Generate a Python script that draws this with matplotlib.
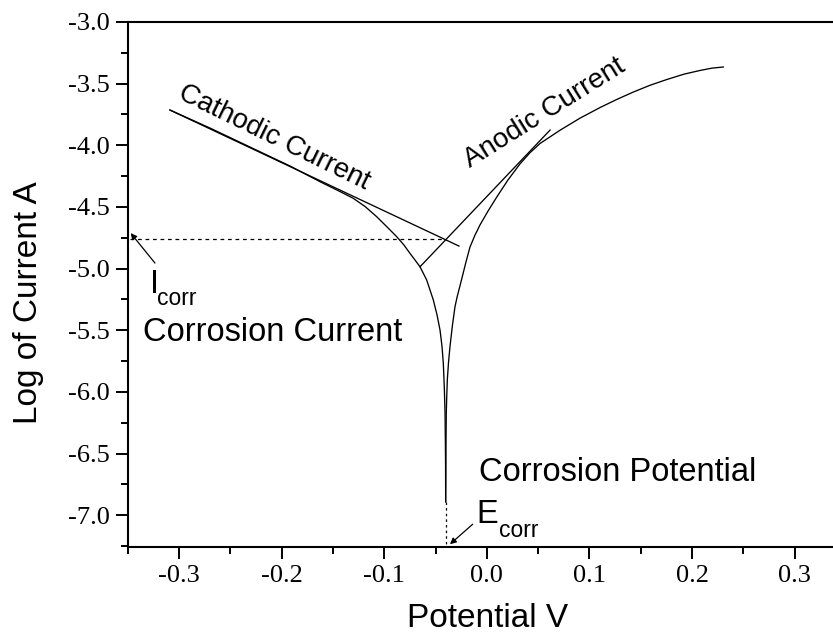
import matplotlib.pyplot as plt
from matplotlib.ticker import MultipleLocator

plt.rcParams['font.family'] = 'Liberation Sans'

# polarization curve: cathodic branch down to the spike at Ecorr
cath_potential = [-0.3088, -0.2698, -0.2308, -0.1918, -0.1626, -0.1431, -0.1301, -0.1187,
                  -0.1073, -0.0976, -0.0878, -0.0807, -0.0749, -0.0700, -0.0651, -0.0586,
                  -0.0521, -0.0485, -0.0456, -0.0437, -0.0424, -0.0414, -0.0407, -0.0404,
                  -0.0402, -0.0401]
cath_log_current = [-3.714, -3.860, -4.014, -4.168, -4.295, -4.375, -4.430, -4.496,
                    -4.579, -4.659, -4.741, -4.809, -4.876, -4.930, -4.985, -5.092,
                    -5.255, -5.376, -5.498, -5.628, -5.766, -5.968, -6.171, -6.390,
                    -6.577, -6.891]

# anodic branch from the spike upwards
anod_potential = [-0.0401, -0.0399, -0.0398, -0.0395, -0.0390, -0.0385, -0.0373, -0.0359,
                  -0.0336, -0.0310, -0.0290, -0.0247, -0.0203, -0.0164, -0.0115, -0.0066,
                  0.0012, 0.0099, 0.0207, 0.0324, 0.0421, 0.0519, 0.0713, 0.0908,
                  0.1103, 0.1259, 0.1425, 0.1591, 0.1756, 0.1922, 0.2078, 0.2195, 0.2305]
anod_log_current = [-6.891, -6.633, -6.445, -6.171, -6.025, -5.904, -5.758, -5.633,
                    -5.466, -5.309, -5.232, -5.092, -4.946, -4.825, -4.728, -4.645,
                    -4.533, -4.417, -4.280, -4.150, -4.060, -3.985, -3.878, -3.780,
                    -3.694, -3.631, -3.569, -3.513, -3.466, -3.423, -3.393, -3.374, -3.365]

# tafel extrapolation lines
cath_tafel_x = [-0.3088, -0.0271]
cath_tafel_y = [-3.714, -4.817]
anod_tafel_x = [-0.0651, 0.0617]
anod_tafel_y = [-4.985, -3.876]

e_corr = -0.0401
log_i_corr = -4.763
e_spike_bottom = -6.891

fig = plt.figure(figsize=(8.33, 6.34), dpi=100)
ax = fig.add_axes([0.1533, 0.1377, 0.8622, 0.8276])

ax.plot(cath_potential, cath_log_current, color='black', lw=0.95)
ax.plot(anod_potential, anod_log_current, color='black', lw=0.95)
ax.plot(cath_tafel_x, cath_tafel_y, color='black', lw=0.95)
ax.plot(anod_tafel_x, anod_tafel_y, color='black', lw=0.95)

# dotted guides to the axes
ax.plot([-0.3478, -0.042], [log_i_corr, log_i_corr], color='black', lw=0.9, ls=(0, (3, 3)))
ax.plot([e_corr, e_corr], [e_spike_bottom, -7.255], color='black', lw=0.9, ls=(0, (2, 2.5)))

arrow = dict(arrowstyle='-|>', color='black', lw=0.9, mutation_scale=9, shrinkA=0, shrinkB=0)
ax.annotate('', xy=(-0.3471, -4.712), xytext=(-0.3234, -4.955), arrowprops=arrow)
ax.annotate('', xy=(-0.0359, -7.235), xytext=(-0.0138, -7.073), arrowprops=arrow)

ax.text(-0.3283, -5.195, 'I', fontsize=23.5, ha='left', va='baseline')
ax.text(-0.3214, -5.296, 'corr', fontsize=16.5, ha='left', va='baseline')
ax.text(-0.3348, -5.590, 'Corrosion Current', fontsize=23.5, ha='left', va='baseline')
ax.text(-0.0076, -6.724, 'Corrosion Potential', fontsize=23.5, ha='left', va='baseline')
ax.text(-0.0098, -7.066, 'E', fontsize=23.5, ha='left', va='baseline')
ax.text(0.0122, -7.177, 'corr', fontsize=16.5, ha='left', va='baseline')

ax.text(-0.3020, -3.617, 'Cathodic Current', fontsize=20, rotation=-26,
        rotation_mode='anchor', ha='left', va='baseline')
ax.text(-0.0160, -4.187, 'Anodic Current', fontsize=20, rotation=32,
        rotation_mode='anchor', ha='left', va='baseline')

ax.set_xlim(-0.35, 0.35)
ax.set_ylim(-7.255, -3.0)

ax.xaxis.set_major_locator(MultipleLocator(0.1))
ax.xaxis.set_minor_locator(MultipleLocator(0.05))
ax.yaxis.set_major_locator(MultipleLocator(0.5))
ax.yaxis.set_minor_locator(MultipleLocator(0.25))
ax.xaxis.set_major_formatter(lambda v, p: f'{v:.1f}'.replace('-0.0', '0.0'))
ax.yaxis.set_major_formatter(lambda v, p: f'{v:.1f}')

ax.spines['right'].set_visible(False)
for s in ['left', 'bottom', 'top']:
    ax.spines[s].set_linewidth(1.5)

ax.tick_params(which='both', direction='out', width=1.4, top=False, right=False)
ax.tick_params(which='major', length=8.5)
ax.tick_params(which='minor', length=5)
ax.tick_params(axis='x', which='major', pad=5)
ax.tick_params(axis='y', which='major', pad=4.5)
for lab in ax.get_xticklabels() + ax.get_yticklabels():
    lab.set_fontfamily('Liberation Serif')
    lab.set_fontsize(19)

ax.set_xlabel('Potential V', fontsize=24)
ax.set_ylabel('Log of Current A', fontsize=24)
ax.xaxis.set_label_coords(0.5017, -0.108)
ax.yaxis.set_label_coords(-0.1165, 0.4645)

fig.savefig('out.png', dpi=100)
